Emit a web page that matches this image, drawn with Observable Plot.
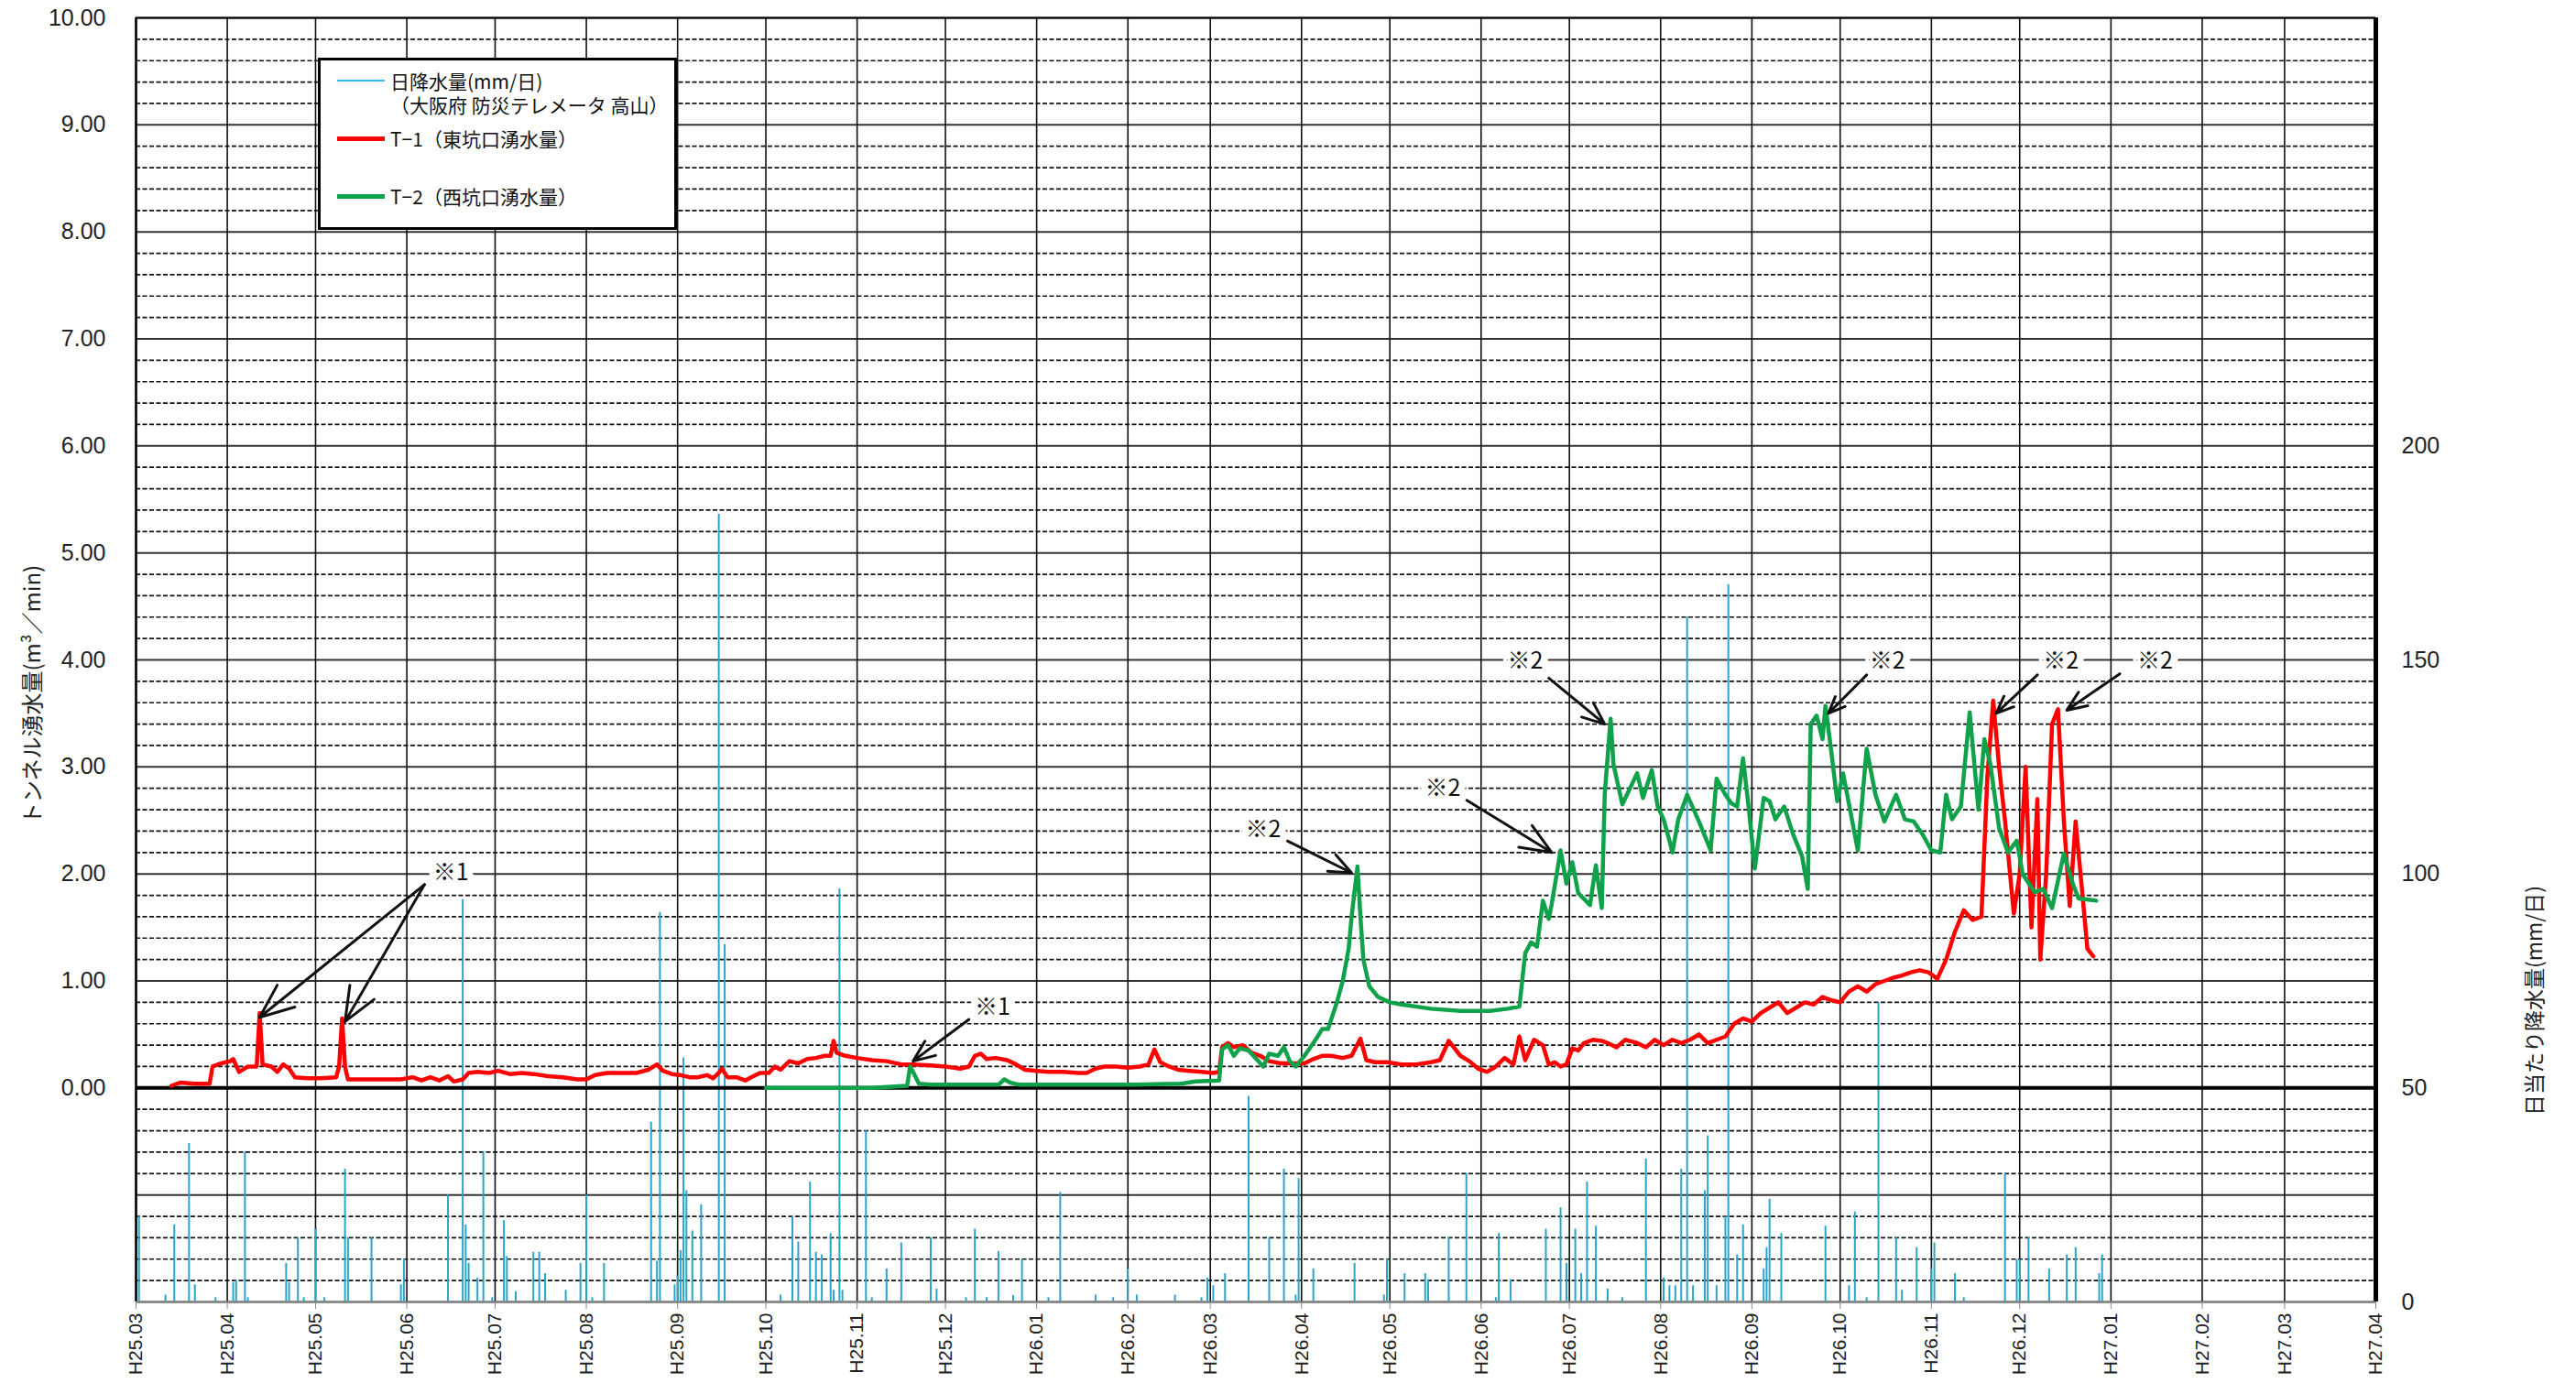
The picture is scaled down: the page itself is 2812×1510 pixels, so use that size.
<!DOCTYPE html>
<html><head><meta charset="utf-8">
<script src="https://cdn.jsdelivr.net/npm/d3@7"></script>
<script src="https://cdn.jsdelivr.net/npm/@observablehq/plot@0.6"></script>
<style>
body{margin:0;background:#fff;}
#wrap{position:relative;width:2812px;height:1510px;}
#legend{position:absolute;left:347px;top:63px;width:386px;height:182px;border:3px solid #000;background:#fff;font-family:"Noto Sans CJK JP","Noto Sans",sans-serif;font-size:21px;color:#111;}
#legend .sw{position:absolute;left:18px;width:52px;}
#legend .tx{position:absolute;left:76px;line-height:24px;white-space:nowrap;}
</style></head><body><div id="wrap"></div>
<script>
// ---- daily rainfall (mm/day), 大阪府 防災テレメータ 高山 ----
const rainDates = ["2013-03-02","2013-03-11","2013-03-14","2013-03-19","2013-03-21","2013-03-28","2013-04-03","2013-04-04","2013-04-07","2013-04-08","2013-04-21","2013-04-22","2013-04-25","2013-04-27","2013-05-01","2013-05-04","2013-05-11","2013-05-12","2013-05-20","2013-05-30","2013-05-31","2013-06-15","2013-06-20","2013-06-21","2013-06-22","2013-06-25","2013-06-27","2013-06-30","2013-07-04","2013-07-05","2013-07-08","2013-07-14","2013-07-16","2013-07-18","2013-07-25","2013-07-30","2013-08-01","2013-08-03","2013-08-07","2013-08-23","2013-08-25","2013-08-26","2013-08-31","2013-09-01","2013-09-02","2013-09-03","2013-09-04","2013-09-06","2013-09-09","2013-09-15","2013-09-17","2013-10-06","2013-10-10","2013-10-12","2013-10-16","2013-10-18","2013-10-20","2013-10-23","2013-10-24","2013-10-26","2013-10-27","2013-11-04","2013-11-06","2013-11-11","2013-11-16","2013-11-26","2013-11-28","2013-12-08","2013-12-11","2013-12-15","2013-12-19","2013-12-24","2013-12-27","2014-01-05","2014-01-09","2014-01-21","2014-01-27","2014-02-01","2014-02-04","2014-02-17","2014-02-26","2014-02-28","2014-03-02","2014-03-06","2014-03-14","2014-03-21","2014-03-26","2014-03-30","2014-03-31","2014-04-05","2014-04-19","2014-04-29","2014-04-30","2014-05-06","2014-05-13","2014-05-14","2014-05-21","2014-05-27","2014-06-06","2014-06-07","2014-06-11","2014-06-23","2014-06-28","2014-06-30","2014-07-03","2014-07-05","2014-07-07","2014-07-10","2014-07-14","2014-07-19","2014-07-27","2014-08-02","2014-08-04","2014-08-06","2014-08-08","2014-08-10","2014-08-12","2014-08-16","2014-08-17","2014-08-20","2014-08-23","2014-08-24","2014-08-27","2014-08-29","2014-09-05","2014-09-06","2014-09-07","2014-09-11","2014-09-26","2014-10-04","2014-10-06","2014-10-10","2014-10-14","2014-10-20","2014-10-22","2014-10-27","2014-11-01","2014-11-02","2014-11-09","2014-11-12","2014-11-26","2014-11-30","2014-12-01","2014-12-04","2014-12-11","2014-12-17","2014-12-20","2014-12-28","2014-12-29"];
const rainMM = [20,1.6,18,37,4,1,4.5,5,35,1,9,4.5,15,1,17,1,31,15,15,4,10,25,94,18,9,5.6,35,1,19,10.6,2.4,11.6,11.6,6.6,2.7,9,25,1,9,42,9.5,91,4,6,12,57,26,16.6,22.7,184,83.5,1.6,20,14,28,11.6,11,16,2.7,96.5,2.7,40,1,7.7,13.8,15,3,1,17,1,11.8,1.5,9.9,1,25.6,1.6,1,7.7,1.6,1.6,1,5.6,3.8,6.6,48,15,31,1.6,28.8,7.7,9,1.6,10,6.6,6.6,5,15,30,1,16,5.2,17,22,9,17,6.6,28,17.7,3,1,33.4,5.6,3.8,3.8,31,160,3.8,26,38.8,3.8,20,167.6,11,18,7.7,12.7,24,16,17.7,3.8,21,1,70,15,2.7,12.7,7.7,13.8,6.6,1,30,9.9,9.9,15,7.7,11,12.7,6.6,11];

// ---- T-1 (東坑口湧水量) m3/min ----
const t1Dates = ["2013-03-13","2013-03-16","2013-03-21","2013-03-26","2013-03-27","2013-03-30","2013-04-02","2013-04-03","2013-04-05","2013-04-08","2013-04-11","2013-04-12","2013-04-13","2013-04-16","2013-04-18","2013-04-20","2013-04-22","2013-04-24","2013-04-28","2013-05-03","2013-05-08","2013-05-09","2013-05-10","2013-05-11","2013-05-12","2013-05-20","2013-05-30","2013-06-03","2013-06-06","2013-06-09","2013-06-12","2013-06-15","2013-06-17","2013-06-20","2013-06-22","2013-06-25","2013-06-29","2013-07-02","2013-07-06","2013-07-10","2013-07-14","2013-07-19","2013-07-24","2013-07-29","2013-08-01","2013-08-04","2013-08-08","2013-08-13","2013-08-18","2013-08-22","2013-08-25","2013-08-27","2013-08-30","2013-09-02","2013-09-05","2013-09-08","2013-09-11","2013-09-13","2013-09-15","2013-09-16","2013-09-18","2013-09-21","2013-09-24","2013-09-26","2013-09-29","2013-10-02","2013-10-04","2013-10-06","2013-10-09","2013-10-12","2013-10-15","2013-10-18","2013-10-21","2013-10-23","2013-10-24","2013-10-25","2013-10-28","2013-11-01","2013-11-06","2013-11-11","2013-11-16","2013-11-20","2013-11-26","2013-12-01","2013-12-06","2013-12-09","2013-12-11","2013-12-13","2013-12-15","2013-12-18","2013-12-22","2013-12-25","2013-12-28","2014-01-01","2014-01-05","2014-01-10","2014-01-15","2014-01-18","2014-01-21","2014-01-24","2014-01-28","2014-02-01","2014-02-05","2014-02-08","2014-02-10","2014-02-12","2014-02-15","2014-02-18","2014-02-22","2014-02-26","2014-03-02","2014-03-04","2014-03-05","2014-03-07","2014-03-09","2014-03-12","2014-03-15","2014-03-18","2014-03-21","2014-03-25","2014-03-29","2014-04-02","2014-04-05","2014-04-08","2014-04-11","2014-04-15","2014-04-18","2014-04-21","2014-04-23","2014-04-26","2014-04-30","2014-05-05","2014-05-10","2014-05-15","2014-05-18","2014-05-21","2014-05-25","2014-05-28","2014-05-31","2014-06-03","2014-06-06","2014-06-09","2014-06-12","2014-06-14","2014-06-16","2014-06-19","2014-06-22","2014-06-24","2014-06-26","2014-06-28","2014-06-30","2014-07-02","2014-07-04","2014-07-06","2014-07-09","2014-07-12","2014-07-14","2014-07-17","2014-07-20","2014-07-24","2014-07-27","2014-07-30","2014-08-02","2014-08-05","2014-08-08","2014-08-11","2014-08-14","2014-08-17","2014-08-20","2014-08-23","2014-08-26","2014-08-29","2014-09-01","2014-09-04","2014-09-07","2014-09-10","2014-09-13","2014-09-16","2014-09-19","2014-09-22","2014-09-25","2014-09-28","2014-10-01","2014-10-04","2014-10-07","2014-10-10","2014-10-13","2014-10-16","2014-10-19","2014-10-22","2014-10-25","2014-10-28","2014-10-31","2014-11-03","2014-11-06","2014-11-09","2014-11-12","2014-11-15","2014-11-18","2014-11-20","2014-11-22","2014-11-24","2014-11-26","2014-11-29","2014-12-01","2014-12-03","2014-12-05","2014-12-07","2014-12-08","2014-12-10","2014-12-12","2014-12-14","2014-12-16","2014-12-18","2014-12-20","2014-12-22","2014-12-24","2014-12-26"];
const t1Values = [0.02,0.05,0.04,0.04,0.2,0.23,0.25,0.27,0.15,0.2,0.2,0.7,0.22,0.2,0.15,0.22,0.18,0.1,0.09,0.09,0.1,0.2,0.65,0.2,0.08,0.08,0.08,0.1,0.07,0.1,0.07,0.11,0.06,0.08,0.14,0.15,0.14,0.16,0.13,0.14,0.13,0.11,0.1,0.08,0.08,0.12,0.14,0.14,0.14,0.17,0.22,0.16,0.13,0.12,0.1,0.1,0.12,0.09,0.14,0.18,0.1,0.1,0.07,0.1,0.14,0.14,0.2,0.17,0.25,0.23,0.27,0.28,0.3,0.3,0.44,0.33,0.3,0.28,0.26,0.25,0.22,0.22,0.21,0.2,0.18,0.2,0.3,0.32,0.27,0.28,0.26,0.22,0.17,0.16,0.15,0.15,0.14,0.14,0.18,0.2,0.2,0.19,0.2,0.22,0.36,0.24,0.2,0.17,0.16,0.15,0.14,0.15,0.38,0.42,0.38,0.4,0.33,0.3,0.25,0.23,0.23,0.23,0.27,0.3,0.3,0.28,0.3,0.46,0.26,0.24,0.24,0.22,0.22,0.24,0.26,0.44,0.3,0.25,0.18,0.15,0.2,0.28,0.22,0.48,0.26,0.45,0.4,0.22,0.24,0.2,0.22,0.37,0.35,0.42,0.45,0.44,0.42,0.38,0.45,0.42,0.38,0.45,0.4,0.45,0.42,0.45,0.5,0.42,0.45,0.48,0.6,0.65,0.62,0.7,0.75,0.8,0.7,0.75,0.8,0.78,0.85,0.82,0.8,0.9,0.95,0.9,0.97,1.0,1.03,1.05,1.08,1.1,1.08,1.02,1.2,1.46,1.66,1.57,1.6,2.9,3.62,3.0,2.5,1.63,2.0,3.0,1.5,2.7,1.2,2.0,3.4,3.54,2.5,1.7,2.49,1.9,1.3,1.23];

// ---- T-2 (西坑口湧水量) m3/min ----
const t2Dates = ["2013-10-01","2013-11-06","2013-11-18","2013-11-19","2013-11-20","2013-11-22","2013-11-26","2013-12-06","2013-12-19","2013-12-21","2013-12-23","2013-12-26","2014-01-15","2014-02-04","2014-02-19","2014-02-24","2014-03-04","2014-03-05","2014-03-07","2014-03-09","2014-03-11","2014-03-14","2014-03-17","2014-03-19","2014-03-21","2014-03-24","2014-03-26","2014-03-28","2014-03-30","2014-04-02","2014-04-04","2014-04-06","2014-04-08","2014-04-10","2014-04-13","2014-04-15","2014-04-17","2014-04-18","2014-04-20","2014-04-21","2014-04-22","2014-04-24","2014-04-27","2014-05-01","2014-05-05","2014-05-15","2014-05-25","2014-06-04","2014-06-10","2014-06-14","2014-06-16","2014-06-18","2014-06-20","2014-06-22","2014-06-24","2014-06-25","2014-06-27","2014-06-28","2014-06-30","2014-07-02","2014-07-04","2014-07-08","2014-07-10","2014-07-12","2014-07-13","2014-07-15","2014-07-16","2014-07-19","2014-07-24","2014-07-26","2014-07-29","2014-07-31","2014-08-02","2014-08-04","2014-08-05","2014-08-07","2014-08-10","2014-08-14","2014-08-18","2014-08-20","2014-08-23","2014-08-25","2014-08-27","2014-08-29","2014-08-31","2014-09-02","2014-09-05","2014-09-07","2014-09-09","2014-09-12","2014-09-15","2014-09-18","2014-09-20","2014-09-21","2014-09-23","2014-09-25","2014-09-26","2014-09-28","2014-09-30","2014-10-02","2014-10-07","2014-10-10","2014-10-13","2014-10-16","2014-10-20","2014-10-23","2014-10-26","2014-10-29","2014-11-01","2014-11-04","2014-11-06","2014-11-08","2014-11-11","2014-11-14","2014-11-17","2014-11-19","2014-11-21","2014-11-24","2014-11-27","2014-11-30","2014-12-02","2014-12-06","2014-12-09","2014-12-12","2014-12-16","2014-12-19","2014-12-21","2014-12-27"];
const t2Values = [0.0,0.0,0.02,0.2,0.15,0.04,0.03,0.03,0.03,0.08,0.05,0.03,0.03,0.03,0.04,0.06,0.07,0.36,0.4,0.3,0.37,0.35,0.26,0.2,0.32,0.3,0.38,0.25,0.2,0.3,0.38,0.46,0.55,0.55,0.8,1.0,1.3,1.6,2.07,1.6,1.2,0.95,0.85,0.8,0.78,0.74,0.72,0.72,0.74,0.76,1.26,1.36,1.32,1.75,1.58,1.72,2.05,2.22,1.91,2.11,1.82,1.71,2.08,1.68,2.74,3.45,3.02,2.65,2.94,2.71,2.97,2.63,2.51,2.31,2.2,2.51,2.74,2.49,2.22,2.89,2.74,2.66,2.63,3.08,2.6,2.05,2.71,2.68,2.51,2.63,2.37,2.17,1.86,3.4,3.48,3.26,3.57,3.14,2.68,2.94,2.22,3.17,2.74,2.49,2.74,2.51,2.49,2.37,2.22,2.2,2.74,2.51,2.63,3.51,2.6,3.26,3.03,2.43,2.2,2.31,2.0,1.83,1.86,1.68,2.19,1.91,1.77,1.75];

// ---- annotations ----
const noteDates  = ["2013-06-16","2013-12-17","2014-03-19","2014-05-19","2014-06-16","2014-10-17","2014-12-15","2015-01-16"];
const noteValues = [2.01,0.75,2.41,2.80,3.99,3.99,3.99,3.99];
const noteLabels = ["※1","※1","※2","※2","※2","※2","※2","※2"];
const arrowFrom  = [["2013-06-07",1.90],["2013-06-07",1.90],["2013-12-09",0.64],["2014-03-27",2.31],["2014-05-27",2.69],["2014-06-24",3.83],["2014-10-10",3.86],["2014-12-07",3.86],["2015-01-04",3.87]];
const arrowTo    = [["2013-04-12",0.66],["2013-05-11",0.62],["2013-11-20",0.25],["2014-04-18",2.01],["2014-06-25",2.20],["2014-07-13",3.40],["2014-09-27",3.50],["2014-11-23",3.50],["2014-12-17",3.53]];

// ---- axes ----
const xStart = "2013-03-01", xEnd = "2015-04-01";
const leftTicks = [0,1,2,3,4,5,6,7,8,9,10];
const rightTickMM = [0,50,100,150,200];
const yTitleLeft = "トンネル湧水量(m³／min)";
const yTitleRight = "日当たり降水量(mm/日)";

const parse = d3.utcParse("%Y-%m-%d");
const mmToY = mm => (mm - 50) / 25;   // right axis: 50 mm ↔ 0.00, 25 mm per unit
const rain = rainDates.map((d, i) => ({date: parse(d), mm: rainMM[i]}));
const t1 = t1Dates.map((d, i) => ({date: parse(d), v: t1Values[i]}));
const t2 = t2Dates.map((d, i) => ({date: parse(d), v: t2Values[i]}));
const notes = noteDates.map((d, i) => ({date: parse(d), v: noteValues[i], label: noteLabels[i]}));
const arrows = arrowFrom.map((f, i) => ({x1: parse(f[0]), y1: f[1], x2: parse(arrowTo[i][0]), y2: arrowTo[i][1]}));
const months = d3.utcMonth.range(parse(xStart), d3.utcDay.offset(parse(xEnd), 1));
const minor = d3.range(-10, 51).map(i => i / 5).filter(v => Math.abs(v - Math.round(v)) > 1e-6);
const major = d3.range(-2, 11);
const heisei = d => `H${d.getUTCFullYear() - 1988}.${String(d.getUTCMonth() + 1).padStart(2, "0")}`;

const font = "'Liberation Sans','Noto Sans CJK JP',sans-serif";
const jp = "'Noto Sans CJK JP',sans-serif";
const chart = Plot.plot({
  width: 2812, height: 1510,
  marginLeft: 148, marginRight: 219, marginTop: 19, marginBottom: 89,
  style: {fontFamily: font, background: "#fff", color: "#222", overflow: "visible"},
  x: {type: "utc", domain: [parse(xStart), parse(xEnd)]},
  y: {domain: [-2, 10]},
  marks: [
    Plot.ruleY(minor, {stroke: "#111", strokeWidth: 1.7, strokeDasharray: "5,2.5"}),
    Plot.ruleY(major, {stroke: "#333", strokeWidth: 2}),
    Plot.ruleX(months, {stroke: "#111", strokeWidth: 1.6}),
    Plot.ruleX(rain, {x: "date", y1: -2, y2: d => mmToY(d.mm), stroke: "#2aa4c8", strokeWidth: 2}),
    Plot.ruleY([0], {stroke: "#000", strokeWidth: 4}),
    Plot.ruleY([10], {stroke: "#000", strokeWidth: 2}),
    Plot.ruleX([parse(xStart)], {stroke: "#000", strokeWidth: 2.5}),
    Plot.ruleX([parse(xEnd)], {stroke: "#000", strokeWidth: 5}),
    Plot.ruleY([-2], {stroke: "#888", strokeWidth: 2}),
    Plot.line(t1, {x: "date", y: "v", stroke: "#ff0000", strokeWidth: 4.5, curve: "linear"}),
    Plot.line(t2, {x: "date", y: "v", stroke: "#0fa24b", strokeWidth: 4.5, curve: "linear"}),
    Plot.arrow(arrows, {x1: "x1", y1: "y1", x2: "x2", y2: "y2", bend: 0, stroke: "#111", strokeWidth: 3, headLength: 20, headAngle: 45}),
    Plot.text(notes, {x: "date", y: "v", text: "label", fontSize: 25, fill: "#111", stroke: "#fff", strokeWidth: 16, fontFamily: jp}),
    Plot.axisY({anchor: "left", ticks: leftTicks, tickFormat: d => d.toFixed(2), tickSize: 0, tickPadding: 33, fontSize: 25, label: null}),
    Plot.axisY({anchor: "right", ticks: rightTickMM.map(mmToY), tickFormat: d => String(Math.round(d * 25 + 50)), tickSize: 0, tickPadding: 28, fontSize: 25, label: null}),
    Plot.axisX({ticks: months, tickFormat: heisei, tickRotate: -90, tickSize: 8, tickPadding: 4, fontSize: 21, stroke: "#888", label: null}),
    Plot.text([yTitleLeft], {frameAnchor: "left", textAnchor: "middle", dx: -112, dy: 38, rotate: -90, fontSize: 24, fill: "#222", fontFamily: jp}),
    Plot.text([yTitleRight], {frameAnchor: "right", textAnchor: "middle", dx: 174, dy: 372, rotate: -90, fontSize: 23, fill: "#222", fontFamily: jp})
  ]
});
const wrap = document.getElementById("wrap");
wrap.appendChild(chart);

// legend (inside the plot area, upper left)
const legend = document.createElement("div");
legend.id = "legend";
const legendItems = [
  {color: "#33bbee", width: 2, lines: ["日降水量(mm/日)", "（大阪府 防災テレメータ 高山）"], y: 22},
  {color: "#ff0000", width: 5, lines: ["T−1（東坑口湧水量）"], y: 85},
  {color: "#0fa24b", width: 5, lines: ["T−2（西坑口湧水量）"], y: 148}
];
legendItems.forEach(it => {
  const sw = document.createElement("div");
  sw.className = "sw";
  sw.style.top = (it.y - it.width / 2) + "px";
  sw.style.height = it.width + "px";
  sw.style.background = it.color;
  legend.appendChild(sw);
  it.lines.forEach((t, j) => {
    const tx = document.createElement("div");
    tx.className = "tx";
    tx.style.top = (it.y - 12 + j * 26) + "px";
    tx.textContent = t;
    legend.appendChild(tx);
  });
});
wrap.appendChild(legend);
</script></body></html>
